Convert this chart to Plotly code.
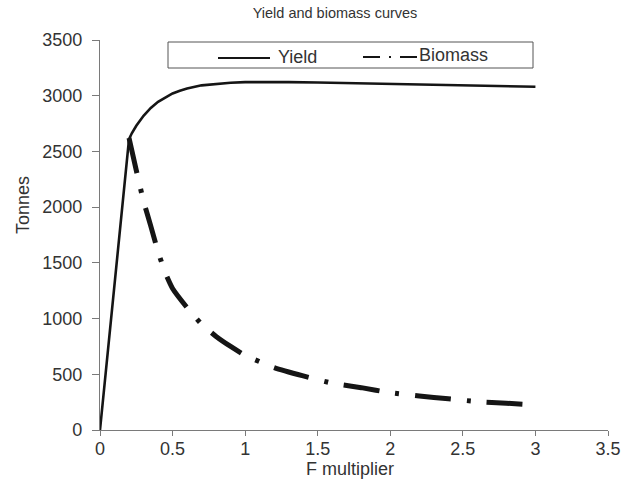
import plotly.graph_objects as go

# Data
yield_f = [0, 0.2, 0.22, 0.25, 0.3, 0.35, 0.4, 0.45, 0.5, 0.55, 0.6, 0.7, 0.8, 0.9, 1.0, 1.1, 1.3, 1.5, 2.0, 2.5, 3.0]
yield_t = [0, 2610, 2665, 2730, 2820, 2890, 2945, 2985, 3020, 3045, 3065, 3093, 3108, 3117, 3122, 3124, 3122, 3118, 3106, 3094, 3080]

biomass_f = [0.2, 0.25, 0.3, 0.35, 0.4, 0.45, 0.5, 0.6, 0.7, 0.8, 0.9, 1.0, 1.2, 1.4, 1.6, 1.8, 2.0, 2.2, 2.4, 2.6, 2.8, 3.0]
biomass_t = [2620, 2330, 2054, 1830, 1600, 1410, 1270, 1098, 950, 840, 750, 670, 560, 485, 420, 380, 335, 305, 280, 255, 240, 225]

x_ticks = [0, 0.5, 1, 1.5, 2, 2.5, 3, 3.5]
x_tick_labels = ["0", "0.5", "1", "1.5", "2", "2.5", "3", "3.5"]
y_ticks = [0, 500, 1000, 1500, 2000, 2500, 3000, 3500]

series_names = ["Yield", "Biomass"]

FONT = "Liberation Sans, Arial, sans-serif"
TXT = "#333333"
INK = "#151515"
BIOMASS_DASH = "36px,16px,4px,16px"

W, H = 621, 479
L, R, T, B = 100, 13, 40, 49
PW, PH = W - L - R, H - T - B


def px_x(p):
    return (p - L) / PW


def px_y(p):
    return (H - B - p) / PH


fig = go.Figure()
fig.add_trace(go.Scatter(x=yield_f, y=yield_t, mode="lines", name=series_names[0],
                         line=dict(color=INK, width=2.6)))
fig.add_trace(go.Scatter(x=biomass_f, y=biomass_t, mode="lines", name=series_names[1],
                         line=dict(color=INK, width=5, dash=BIOMASS_DASH, shape="spline", smoothing=0.5)))

shapes = [
    # legend frame
    dict(type="rect", xref="paper", yref="paper", x0=px_x(168), x1=px_x(533), y0=px_y(68), y1=px_y(42),
         line=dict(color="#555555", width=1), fillcolor="white", layer="above"),
    # legend samples
    dict(type="line", xref="paper", yref="paper", x0=px_x(218), x1=px_x(270), y0=px_y(58), y1=px_y(58),
         line=dict(color=INK, width=2), layer="above"),
    dict(type="line", xref="paper", yref="paper", x0=px_x(363), x1=px_x(417), y0=px_y(57), y1=px_y(57),
         line=dict(color=INK, width=2, dash="17px,9px,2px,9px"), layer="above"),
]

annotations = [
    dict(text=series_names[0], xref="paper", yref="paper", x=px_x(276), y=px_y(57), xanchor="left",
         yanchor="middle", showarrow=False, font=dict(size=18, color=TXT)),
    dict(text=series_names[1], xref="paper", yref="paper", x=px_x(417), y=px_y(55), xanchor="left",
         yanchor="middle", showarrow=False, font=dict(size=18, color=TXT)),
    dict(text="Tonnes", xref="paper", yref="paper", x=px_x(23), y=px_y(205), xanchor="center",
         yanchor="middle", textangle=-90, showarrow=False, font=dict(size=18, color=TXT)),
    dict(text="F multiplier", xref="paper", yref="paper", x=px_x(350), y=px_y(469), xanchor="center",
         yanchor="middle", showarrow=False, font=dict(size=18, color=TXT)),
]

fig.update_layout(
    width=W, height=H,
    margin=dict(l=L, r=R, t=T, b=B),
    paper_bgcolor="white", plot_bgcolor="white",
    font=dict(family=FONT, size=18, color=TXT),
    title=dict(text="Yield and biomass curves", x=335 / W, xanchor="center", xref="container",
               y=1 - 13 / H, yanchor="middle", yref="container",
               font=dict(size=14.5, color=TXT)),
    showlegend=False,
    shapes=shapes,
    annotations=annotations,
)
fig.update_xaxes(range=[0, 3.5], tickvals=x_ticks, ticktext=x_tick_labels, automargin=False,
                 showgrid=False, zeroline=False, showline=True, linecolor="#7a7a7a", linewidth=1.3,
                 ticks="outside", ticklen=5, tickcolor="#7a7a7a", tickwidth=1.3,
                 ticklabelstandoff=-3, ticklabeloverflow="allow",
                 tickfont=dict(size=18, color=TXT))
fig.update_yaxes(range=[0, 3500], tickvals=y_ticks, automargin=False,
                 showgrid=False, zeroline=False, showline=True, linecolor="#7a7a7a", linewidth=1.3,
                 ticks="outside", ticklen=7, tickcolor="#7a7a7a", tickwidth=1.3,
                 ticklabelstandoff=6,
                 tickfont=dict(size=18, color=TXT))

fig.write_html("out.html", config={"displayModeBar": False},
               post_script="document.body.style.margin='0';document.body.style.overflow='hidden';")
